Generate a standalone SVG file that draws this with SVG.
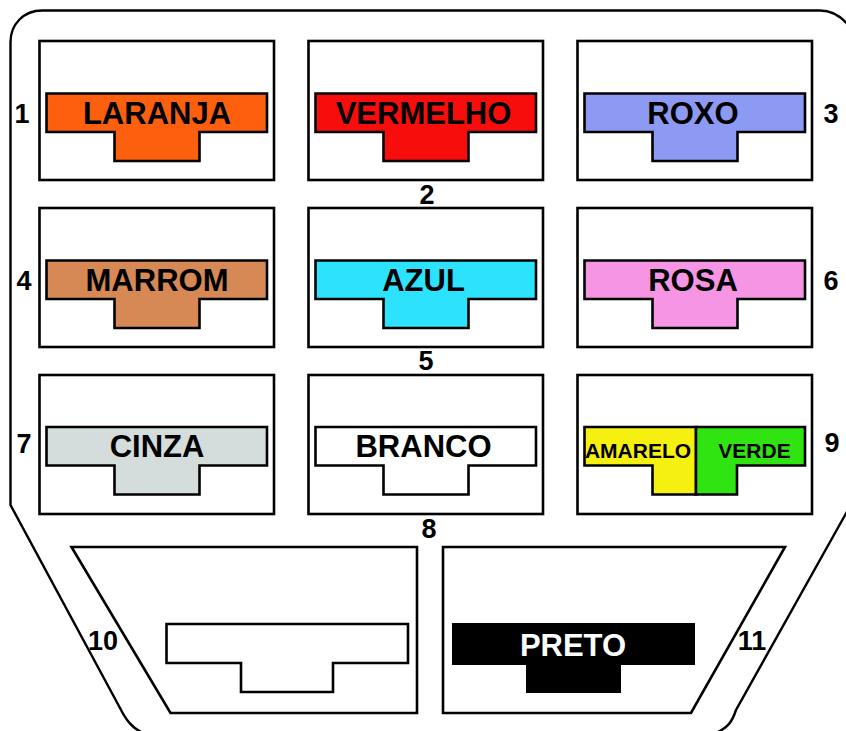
<svg xmlns="http://www.w3.org/2000/svg" width="846" height="731" viewBox="0 0 846 731">
<style>
text{font-family:"Liberation Sans",Arial,sans-serif;font-weight:700;fill:#000;text-anchor:middle}
.l{font-size:31px}.n{font-size:27px}.s{font-size:21px}
.b{fill:#fff;stroke:#000;stroke-width:2.600}
.t{stroke:#000;stroke-width:2.600}
</style>
<defs>
<path id="tee" d="M0 0H220.500V38.500H153V67.500H68V38.500H0Z"/>
</defs>
<rect width="846" height="731" fill="#fff"/>
<g id="connectors">
<path id="outline" d="M143 733C132 728 126 720 120 708L10.500 505V42C10.500 24 24 10.500 42 10.500H820C832 10.500 841 16 849 26M849 508L736 710C732 722 728 727 718 732" fill="none" stroke="#000" stroke-width="2.400"/>
</g>
<g id="fuse1"><rect class="b" x="39.500" y="41" width="234.500" height="139"/><use href="#tee" x="46.500" y="93.500" class="t" fill="#fc5f0e"/><text class="l" x="157" y="124">LARANJA</text><text class="n" x="22" y="123">1</text></g>
<g id="fuse2"><rect class="b" x="308.500" y="41" width="234.500" height="139"/><use href="#tee" x="315.500" y="93.500" class="t" fill="#f80d0d"/><text class="l" x="423.500" y="124">VERMELHO</text><text class="n" x="427" y="204">2</text></g>
<g id="fuse3"><rect class="b" x="577.500" y="41" width="234.500" height="139"/><use href="#tee" x="584.500" y="93.500" class="t" fill="#8d9af3"/><text class="l" x="693" y="124">ROXO</text><text class="n" x="831" y="123">3</text></g>
<g id="fuse4"><rect class="b" x="39.500" y="208" width="234.500" height="139"/><use href="#tee" x="46.500" y="260.500" class="t" fill="#d68855"/><text class="l" x="157" y="291">MARROM</text><text class="n" x="24" y="290">4</text></g>
<g id="fuse5"><rect class="b" x="308.500" y="208" width="234.500" height="139"/><use href="#tee" x="315.500" y="260.500" class="t" fill="#2de2fd"/><text class="l" x="423.500" y="291">AZUL</text><text class="n" x="426" y="370">5</text></g>
<g id="fuse6"><rect class="b" x="577.500" y="208" width="234.500" height="139"/><use href="#tee" x="584.500" y="260.500" class="t" fill="#f595e3"/><text class="l" x="693" y="291">ROSA</text><text class="n" x="831" y="290">6</text></g>
<g id="fuse7"><rect class="b" x="39.500" y="375" width="234.500" height="139"/><use href="#tee" x="46.500" y="427" class="t" fill="#d5dcdc"/><text class="l" x="157" y="457">CINZA</text><text class="n" x="24" y="453">7</text></g>
<g id="fuse8"><rect class="b" x="308.500" y="375" width="234.500" height="139"/><use href="#tee" x="315.500" y="427" class="t" fill="#fff"/><text class="l" x="423.500" y="457">BRANCO</text><text class="n" x="429" y="538">8</text></g>
<g id="fuse9"><rect class="b" x="577.500" y="375" width="234.500" height="139"/>
<path class="t" fill="#f6f011" d="M584.500 427H696V494.500H652.500V465.500H584.500Z"/><path class="t" fill="#30e411" d="M696 427H805V465.500H737V494.500H696Z"/>
<text class="s" x="638" y="458">AMARELO</text><text class="s" x="754.500" y="458">VERDE</text><text class="n" x="832" y="452">9</text></g>
<g id="fuse10"><path class="b" d="M71.500 547H417V713H170.500Z"/><path class="t" fill="#fff" d="M166.500 624H408V663H333V692H241V663H166.500Z"/><text class="n" x="103" y="650">10</text></g>
<g id="fuse11"><path class="b" d="M443 547H785L691 713H443Z"/><path fill="#000" d="M452 623H695V665H621V693H526V665H452Z"/><text class="l" x="573" y="656" style="fill:#fff">PRETO</text><text class="n" x="752" y="650">11</text></g>
</svg>
